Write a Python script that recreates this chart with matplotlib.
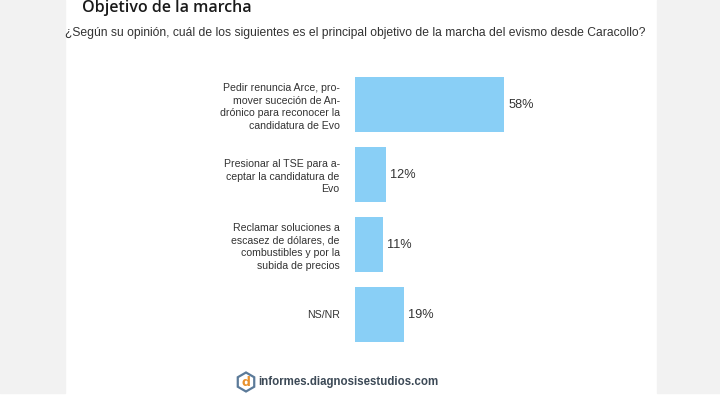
import matplotlib.pyplot as plt
from matplotlib.patches import Rectangle, RegularPolygon

categories = [
    "Pedir renuncia Arce, pro-\nmover suceción de An-\ndrónico para reconocer la\ncandidatura de Evo",
    "Presionar al TSE para a-\nceptar la candidatura de\nEvo",
    "Reclamar soluciones a\nescasez de dólares, de\ncombustibles y por la\nsubida de precios",
    "NS/NR",
]
values = [58, 12, 11, 19]

title = "Objetivo de la marcha"
question = ("¿Según su opinión, cuál de los siguientes es el principal objetivo "
            "de la marcha del evismo desde Caracollo?")
footer = "informes.diagnosisestudios.com"

sans = "Liberation Sans"

W, H = 720, 399
fig = plt.figure(figsize=(W / 100, H / 100), dpi=100, facecolor="white")

# gray side margins
gray = "#f2f2f2"
fig.patches.append(Rectangle((0, 6 / H), 65 / W, 1 - 6 / H, transform=fig.transFigure,
                             color=gray, zorder=0))
fig.patches.append(Rectangle((657 / W, 6 / H), 1 - 657 / W, 1 - 6 / H, transform=fig.transFigure,
                             color=gray, zorder=0))

# axes placed so bars start at x=355 px, 100% = 257 px
ax = fig.add_axes([355 / W, 1 - 349.5 / H, 257 / W, 280 / H])
ax.set_facecolor("none")
y = range(len(values))
bars = ax.barh(y, values, height=0.78, color="#89cff6")
ax.set_xlim(0, 100)
ax.set_ylim(3.5, -0.5)
ax.set_yticks(list(y))
ax.set_yticklabels(categories, fontsize=7.6, color="#333333", family=sans,
                   multialignment="right", linespacing=1.33)
ax.tick_params(axis="y", length=0, pad=11)
ax.set_xticks([])
for s in ax.spines.values():
    s.set_visible(False)

for b, v in zip(bars, values):
    ax.annotate(f"{v}%", (b.get_width(), b.get_y() + b.get_height() / 2),
                xytext=(3, 0), textcoords="offset points", va="center", ha="left",
                fontsize=9.2, color="#333333", family=sans)

fig.text(82 / W, 1 - 8 / H, title, fontsize=11.5, fontweight="semibold", family="Open Sans",
         color="#1a1a1a", va="center", ha="left")
fig.text(65 / W, 1 - 33 / H, question, fontsize=8.7, family=sans,
         color="#333333", va="center", ha="left")

# footer logo
fig.patches.append(RegularPolygon((2.46, 0.17), 6, radius=0.095, transform=fig.dpi_scale_trans,
                                  facecolor="none", edgecolor="#5b7a99", lw=1.6))
fig.text(2.46, 0.165, "d", transform=fig.dpi_scale_trans, fontsize=9, fontweight="bold",
         color="#e8912d", ha="center", va="center")
fig.text(258 / W, 1 - 382 / H, footer, fontsize=8.3, fontweight="bold", family=sans,
         color="#3d4a57", va="center", ha="left")

fig.savefig("out.png", dpi=100, facecolor="white")
